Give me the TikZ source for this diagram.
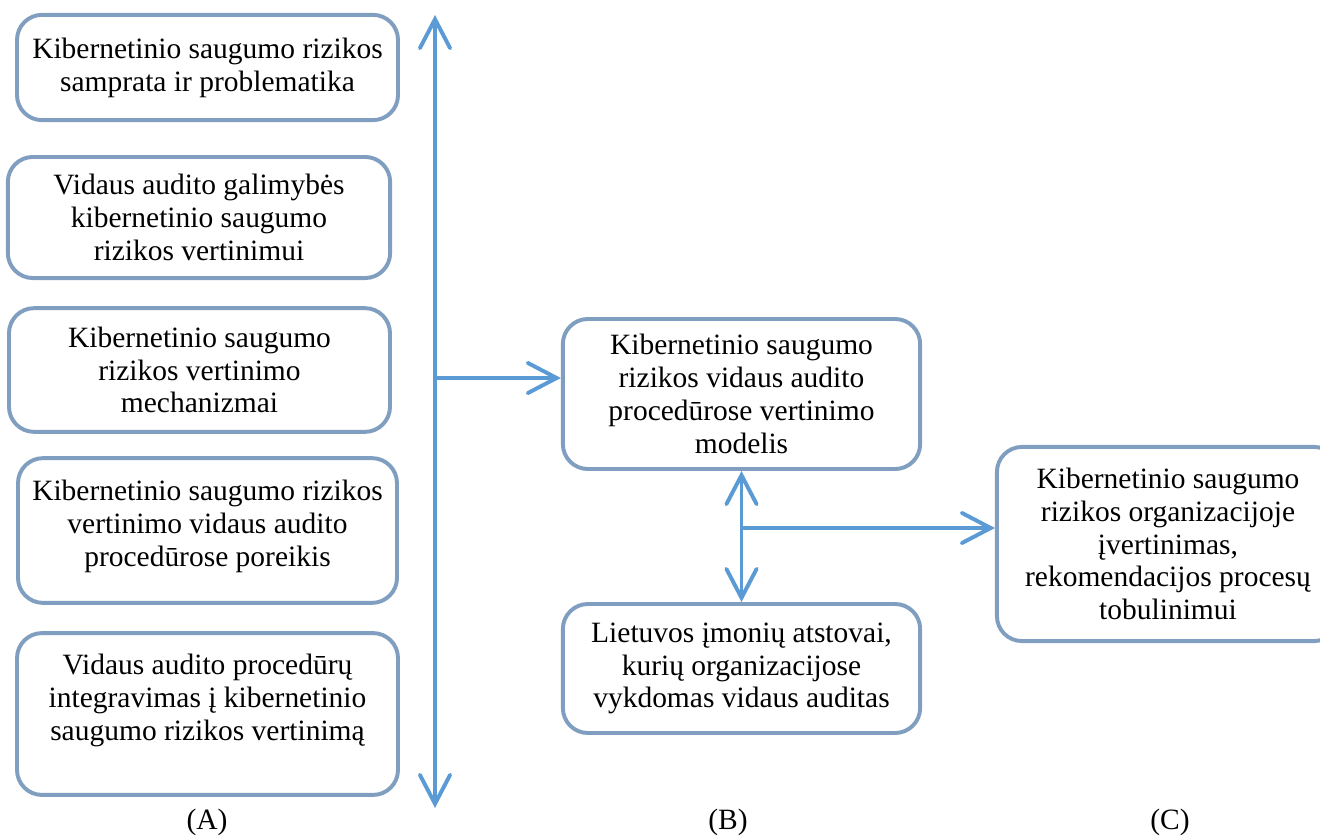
\documentclass[tikz,border=0pt]{standalone}
\usepackage{fontspec}
\setmainfont{Liberation Serif}
\usepackage{tikz}
\usetikzlibrary{arrows.meta,positioning,calc}
\definecolor{boxline}{HTML}{7F9EC0}
\definecolor{arrowblue}{HTML}{5B9BD5}

\begin{document}
\begin{tikzpicture}[
    x=0.0152cm, y=-0.0152cm,
    font=\fontsize{12.75pt}{14.2pt}\selectfont,
    box/.style={draw=boxline, line width=1.7pt, rounded corners=0.38cm, align=center, fill=white, inner sep=2pt},
    arrow/.style={-{Straight Barb[length=4.4mm, width=4.6mm, line cap=round]}, line width=1.7pt, draw=arrowblue},
    dblarrow/.style={{Straight Barb[length=4.4mm, width=4.6mm, line cap=round]}-{Straight Barb[length=4.4mm, width=4.6mm, line cap=round]}, line width=1.7pt, draw=arrowblue}
]
\useasboundingbox (0,0) rectangle (1320,836);
\begin{scope}
\clip (0,0) rectangle (1320,836);
% left column
\node[box, minimum width=5.79cm, minimum height=1.60cm] (concept) at (207.5,67.5) {Kibernetinio saugumo rizikos\\samprata ir problematika};
\node[box, minimum width=5.81cm, minimum height=1.84cm] (options) at (199,217.5) {Vidaus audito galimybės\\kibernetinio saugumo\\rizikos vertinimui};
\node[box, minimum width=5.79cm, minimum height=1.88cm] (mech) at (199.5,370) {Kibernetinio saugumo\\rizikos vertinimo\\mechanizmai};
\node[box, minimum width=5.76cm, minimum height=2.20cm] (need) at (207.5,530.5) {Kibernetinio saugumo rizikos\\vertinimo vidaus audito\\procedūrose poreikis\\[-8pt]~};
\node[box, minimum width=5.79cm, minimum height=2.46cm] (integr) at (207.5,714) {Vidaus audito procedūrų\\integravimas į kibernetinio\\saugumo rizikos vertinimą\\~};
% middle and right
\node[box, minimum width=5.43cm, minimum height=2.28cm] (model) at (741.5,394) {Kibernetinio saugumo\\rizikos vidaus audito\\procedūrose vertinimo\\modelis};
\node[box, minimum width=5.43cm, minimum height=1.96cm] (firms) at (741.5,668.5) {Lietuvos įmonių atstovai,\\kurių organizacijose\\vykdomas vidaus auditas};
\node[box, minimum width=5.20cm, minimum height=2.95cm] (result) at (1168,544) {Kibernetinio saugumo\\rizikos organizacijoje\\įvertinimas,\\rekomendacijos procesų\\tobulinimui};
\end{scope}
% connectors
\coordinate (axtop) at (435,15);
\coordinate (axbot) at (435,808);
\coordinate (jleft) at (435,378);
\coordinate (jmid) at (743,528);
\draw[dblarrow] (axtop) -- (axbot);
\draw[arrow] (jleft) -- (jleft -| model.west);
\draw[dblarrow] (model) -- (firms);
\draw[arrow] (jmid) -- (jmid -| result.west);
% labels
\node (labA) at (207,822) {(A)};
\node (labB) at (728,822) {(B)};
\node (labC) at (1170,822) {(C)};
\end{tikzpicture}
\end{document}
